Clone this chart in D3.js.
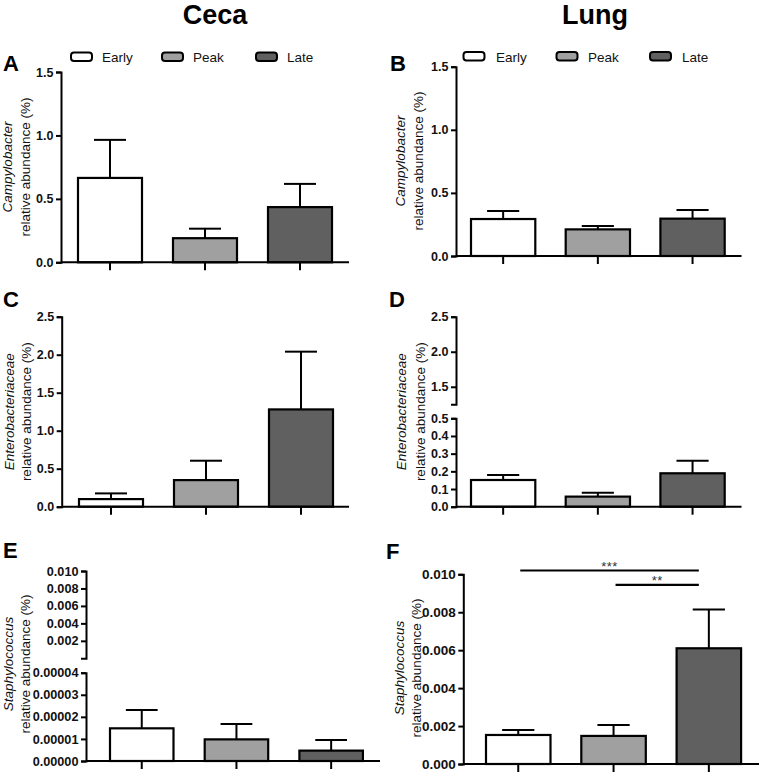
<!DOCTYPE html>
<html><head><meta charset="utf-8">
<script src="https://cdn.jsdelivr.net/npm/d3@7"></script>
<style>
body{margin:0;background:#fff;}
svg{display:block;font-family:"Liberation Sans",Arial,sans-serif;}
</style></head>
<body><svg id="c" width="759" height="774"></svg>
<script>
// ---- data ----
const categories = ["Early","Peak","Late"];
const colors = ["#ffffff","#a0a0a0","#606060"];

const cecaCampy = [0.665, 0.19, 0.435];
const cecaCampyErr = [0.30, 0.075, 0.183];
const lungCampy = [0.293, 0.211, 0.296];
const lungCampyErr = [0.064, 0.027, 0.068];
const cecaEntero = [0.10, 0.35, 1.28];
const cecaEnteroErr = [0.075, 0.255, 0.76];
const lungEntero = [0.151, 0.057, 0.189];
const lungEnteroErr = [0.028, 0.022, 0.071];
const cecaStaph = [0.0000148, 0.0000098, 0.0000047];
const cecaStaphErr = [0.0000083, 0.0000070, 0.0000048];
const lungStaph = [0.00153, 0.00148, 0.0061];
const lungStaphErr = [0.00026, 0.00057, 0.00205];

const ticksCampy = [0, 0.5, 1.0, 1.5];
const ticksEnteroC = [0, 0.5, 1.0, 1.5, 2.0, 2.5];
const ticksEnteroLow = [0, 0.1, 0.2, 0.3, 0.4, 0.5];
const ticksEnteroHigh = [1.5, 2.0, 2.5];
const ticksStaphLow = [0, 0.00001, 0.00002, 0.00003, 0.00004];
const ticksStaphHigh = [0.002, 0.004, 0.006, 0.008, 0.010];
const ticksStaphF = [0, 0.002, 0.004, 0.006, 0.008, 0.010];

const sigF = [{from:"Early", to:"Late", y:0.0102, label:"***"},
              {from:"Peak", to:"Late", y:0.00944, label:"**"}];

const svg = d3.select("#c");

// column titles
svg.append("text").attr("x",215).attr("y",24).attr("text-anchor","middle")
  .attr("font-size",27).attr("font-weight","bold").text("Ceca");
svg.append("text").attr("x",595).attr("y",24).attr("text-anchor","middle")
  .attr("font-size",27).attr("font-weight","bold").text("Lung");

function legend(xs, tx, y){
  categories.forEach((c,i)=>{
    svg.append("rect").attr("x",xs[i]).attr("y",y-9.5).attr("width",21).attr("height",8.5)
      .attr("rx",3).attr("fill",colors[i]).attr("stroke","#000").attr("stroke-width",2);
    svg.append("text").attr("x",tx[i]).attr("y",y).attr("font-size",13.5).attr("fill","#111").text(c);
  });
}
legend([71,162,256],[102,193,287],62);
legend([463.5,556.5,650],[496,588,682],61.5);

function panel(cfg){
  const g = svg.append("g");
  const pad = (1 - cfg.bw/cfg.step)/2;
  const x = d3.scaleBand().domain(categories)
    .range([cfg.bandStart - pad*cfg.step, cfg.bandStart - pad*cfg.step + 3*cfg.step])
    .paddingInner(pad*2).paddingOuter(pad);
  const segs = cfg.segments.map(s=>({...s, scale:d3.scaleLinear().domain(s.domain).range(s.range)}));
  const y = segs[0].scale;
  const y0 = y(0);

  // error bars
  categories.forEach((c,i)=>{
    const cx = x(c)+x.bandwidth()/2;
    const top = y(cfg.values[i]+cfg.errs[i]);
    g.append("line").attr("x1",cx).attr("x2",cx).attr("y1",y(cfg.values[i])).attr("y2",top)
      .attr("stroke","#000").attr("stroke-width",2);
    g.append("line").attr("x1",cx-x.bandwidth()/4).attr("x2",cx+x.bandwidth()/4).attr("y1",top).attr("y2",top)
      .attr("stroke","#000").attr("stroke-width",2);
  });
  // bars
  g.selectAll("rect.bar").data(cfg.values).join("rect").attr("class","bar")
    .attr("x",(d,i)=>x(categories[i])).attr("width",x.bandwidth())
    .attr("y",d=>y(d)).attr("height",d=>y0-y(d))
    .attr("fill",(d,i)=>colors[i]).attr("stroke","#000").attr("stroke-width",2.2);

  // x axis
  const xa = g.append("g").attr("transform",`translate(0,${y0})`)
    .call(d3.axisBottom(x).tickSize(8).tickSizeOuter(0).tickFormat(""));
  xa.select(".domain").remove();
  xa.selectAll(".tick line").attr("stroke","#000").attr("stroke-width",2);
  g.append("line").attr("x1",cfg.yAxisX).attr("x2",cfg.xEnd).attr("y1",y0).attr("y2",y0)
    .attr("stroke","#000").attr("stroke-width",2);

  // y axis segments
  segs.forEach(s=>{
    const ya = g.append("g").attr("transform",`translate(${cfg.yAxisX},0)`)
      .call(d3.axisLeft(s.scale).tickValues(s.ticks).tickFormat(d3.format(s.fmt))
        .tickSize(5).tickSizeOuter(5).tickPadding(2.5));
    ya.select(".domain").attr("stroke","#000").attr("stroke-width",2);
    ya.selectAll(".tick line").attr("stroke","#000").attr("stroke-width",2);
    ya.selectAll(".tick text").attr("font-size",cfg.fs).attr("font-weight","bold")
      .attr("fill","#111").attr("font-family","'Liberation Sans',Arial,sans-serif");
  });

  // y title
  g.append("text").attr("transform",`translate(${cfg.t1x},${cfg.tcy}) rotate(-90)`)
    .attr("text-anchor","middle").attr("font-size",13.5).attr("font-style","italic").attr("fill","#111")
    .text(cfg.genus);
  g.append("text").attr("transform",`translate(${cfg.t2x},${cfg.tcy}) rotate(-90)`)
    .attr("text-anchor","middle").attr("font-size",13.5).attr("fill","#111")
    .text("relative abundance (%)");

  // panel letter
  svg.append("text").attr("x",cfg.lx).attr("y",cfg.ly).attr("font-size",22).attr("font-weight","bold")
    .text(cfg.letter);

  if(cfg.sig){
    cfg.sig.forEach(s=>{
      const xa1 = x(s.from)+x.bandwidth()/2+2, xa2 = x(s.to)+x.bandwidth()/2-10;
      g.append("line").attr("x1",xa1).attr("x2",xa2).attr("y1",y(s.y)).attr("y2",y(s.y))
        .attr("stroke","#000").attr("stroke-width",2.2);
      g.append("text").attr("x",(xa1+xa2)/2).attr("y",y(s.y)+0.5).attr("text-anchor","middle")
        .attr("font-size",13).attr("fill","#333").attr("letter-spacing",0.5).text(s.label);
    });
  }
}

panel({letter:"A", lx:3, ly:71, yAxisX:61, xEnd:349, bandStart:78, step:95, bw:64,
  segments:[{domain:[0,1.5], range:[262.3,72], ticks:ticksCampy, fmt:".1f"}],
  values:cecaCampy, errs:cecaCampyErr, fs:12.5, genus:"Campylobacter", t1x:12, t2x:29.5, tcy:167});
panel({letter:"B", lx:390, ly:71, yAxisX:456, xEnd:741.5, bandStart:471, step:94.7, bw:64.3,
  segments:[{domain:[0,1.5], range:[256,66.7], ticks:ticksCampy, fmt:".1f"}],
  values:lungCampy, errs:lungCampyErr, fs:12.5, genus:"Campylobacter", t1x:405, t2x:423, tcy:161});
panel({letter:"C", lx:3, ly:307, yAxisX:61.7, xEnd:349, bandStart:79, step:95, bw:64,
  segments:[{domain:[0,2.5], range:[506.7,316.7], ticks:ticksEnteroC, fmt:".1f"}],
  values:cecaEntero, errs:cecaEnteroErr, fs:12.5, genus:"Enterobacteriaceae", t1x:13.5, t2x:31, tcy:411.7});
panel({letter:"D", lx:389, ly:307, yAxisX:456, xEnd:741.5, bandStart:471, step:94.7, bw:64.3,
  segments:[{domain:[0,0.5], range:[506.7,418.3], ticks:ticksEnteroLow, fmt:".1f"},
            {domain:[1.25,2.5], range:[404.3,316.7], ticks:ticksEnteroHigh, fmt:".1f"}],
  values:lungEntero, errs:lungEnteroErr, fs:12.5, genus:"Enterobacteriaceae", t1x:406, t2x:424.5, tcy:411.7});
panel({letter:"E", lx:3, ly:558, yAxisX:86, xEnd:380, bandStart:110, step:94.7, bw:63.5,
  segments:[{domain:[0,0.00004], range:[761,672.7], ticks:ticksStaphLow, fmt:".5f"},
            {domain:[0,0.010], range:[658.3,571], ticks:ticksStaphHigh, fmt:".3f"}],
  values:cecaStaph, errs:cecaStaphErr, fs:12.7, genus:"Staphylococcus", t1x:13, t2x:29.5, tcy:664});
panel({letter:"F", lx:386, ly:559, yAxisX:463.3, xEnd:760, bandStart:486, step:95.3, bw:64.5,
  segments:[{domain:[0,0.010], range:[764,574.3], ticks:ticksStaphF, fmt:".3f"}],
  values:lungStaph, errs:lungStaphErr, fs:13.5, genus:"Staphylococcus", t1x:404, t2x:421, tcy:668,
  sig:sigF});
</script></body></html>
